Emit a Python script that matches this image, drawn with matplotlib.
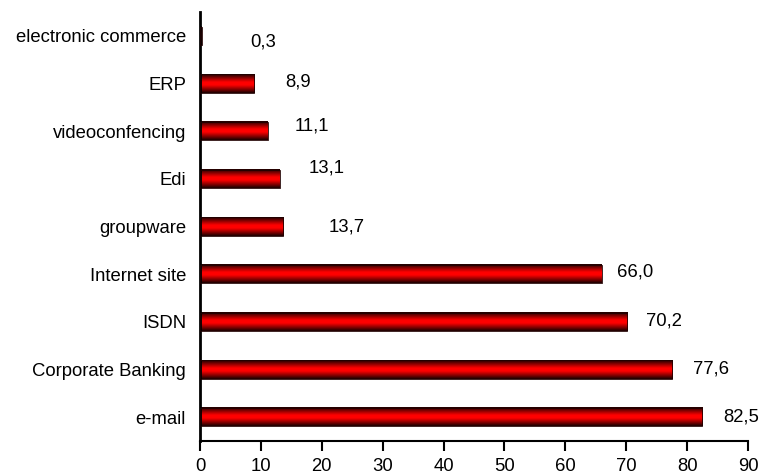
import numpy as np
import matplotlib
matplotlib.use("Agg")
import matplotlib.pyplot as plt
from matplotlib.colors import LinearSegmentedColormap

plt.rcParams['font.family'] = ['Liberation Sans', 'DejaVu Sans']

categories = ["e-mail", "Corporate Banking", "ISDN", "Internet site", "groupware",
              "Edi", "videoconfencing", "ERP", "electronic commerce"]
values = [82.5, 77.6, 70.2, 66.0, 13.7, 13.1, 11.1, 8.9, 0.3]
value_labels = ["82,5", "77,6", "70,2", "66,0", "13,7", "13,1", "11,1", "8,9", "0,3"]

# label placement (x offset in data units, y offset in category units)
label_dx = [3.4, 3.3, 3.0, 2.5, 7.4, 4.75, 4.4, 5.1, 7.9]
label_dy = [0.0, 0.02, 0.02, 0.04, 0.0, 0.23, 0.1, 0.04, -0.13]

bar_h = 0.39
cmap = LinearSegmentedColormap.from_list(
    "redbar", [(0.0, "#1a0000"), (0.2, "#8a0000"), (0.42, "#ff0000"),
               (0.58, "#ff0000"), (0.8, "#8a0000"), (1.0, "#1a0000")])
grad = np.linspace(0, 1, 64).reshape(-1, 1)

fig = plt.figure(figsize=(7.61, 4.75), dpi=100)
ax = fig.add_axes([0.2628, 0.0716, 0.7201, 0.9031])

for i, v in enumerate(values):
    ax.imshow(grad, cmap=cmap, aspect='auto', interpolation='bilinear',
              extent=[0, v, i - bar_h / 2, i + bar_h / 2], zorder=2)
    ax.barh(i, v, height=bar_h, color='none', edgecolor='#200000',
            linewidth=0.6, zorder=3)
    ax.text(v + label_dx[i], i + label_dy[i], value_labels[i],
            ha='left', va='center', fontsize=13.3)

ax.set_xlim(0, 90)
ax.set_ylim(-0.5, 8.5)
ax.set_xticks(np.arange(0, 91, 10))
ax.set_yticks(range(len(categories)))
ax.set_yticklabels(categories, fontsize=13.3)
ax.tick_params(axis='x', direction='out', length=7, width=1.5, labelsize=13.3, pad=5)
ax.tick_params(axis='y', length=0, pad=10)

for s in ['top', 'right']:
    ax.spines[s].set_visible(False)
ax.spines['left'].set_linewidth(2)
ax.spines['bottom'].set_linewidth(1.5)

fig.savefig("out.png", dpi=100)
